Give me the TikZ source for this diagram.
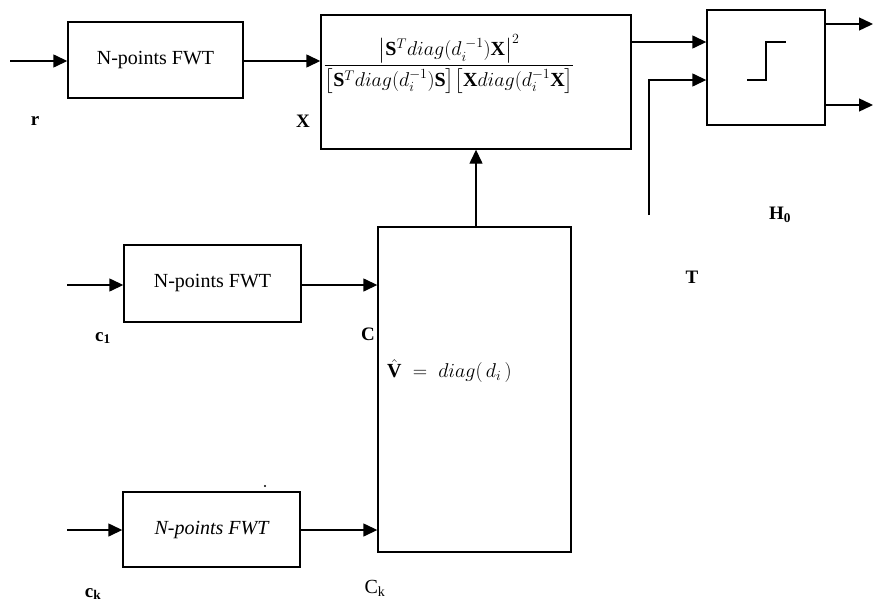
\RequirePackage{fix-cm}
\documentclass[tikz,border=0pt]{standalone}
\usepackage{amsmath}
\usepackage{fontspec}
\setmainfont{Liberation Serif}
\usetikzlibrary{arrows.meta,positioning,calc}
\tikzset{
  >={Triangle[length=14pt,width=13pt]},
  blk/.style={draw,line width=1.4pt,inner sep=2pt,font=\fontsize{20}{24}\selectfont},
  sig/.style={->,line width=1.4pt},
  lbl/.style={font=\fontsize{19}{22}\selectfont\bfseries,inner sep=0pt},
  formula/.style={inner sep=0pt,font=\fontsize{20}{24}\selectfont},
}

\begin{document}
\begin{tikzpicture}[x=1pt,y=-1pt]
  \useasboundingbox (0,0) rectangle (874,605);
  % blocks
  \node[blk,minimum width=175pt,minimum height=76pt] (fwtR) at (155.5,60) {N-points FWT};
  \node[blk,minimum width=310pt,minimum height=134pt] (metric) at (476,82) {};
  \node[formula] (ratio) at (449,64)
    {$\displaystyle\frac{\left|\mathbf{S}^T diag(d_i^{\;-1})\mathbf{X}\right|^2}
      {\left[\mathbf{S}^T diag(d_i^{-1})\mathbf{S}\right]\!\left[\mathbf{X}diag(d_i^{-1}\mathbf{X}\right]}$};
  \node[blk,minimum width=118pt,minimum height=115pt] (hzero) at (766,67.5) {};
  \node[blk,minimum width=177pt,minimum height=77pt] (fwtA) at (212.5,283.5) {N-points FWT};
  \node[blk,minimum width=177pt,minimum height=75pt,font=\fontsize{20}{24}\selectfont\itshape] (fwtK) at (211.5,529.5) {N-points FWT};
  \node[blk,minimum width=193pt,minimum height=325pt] (vhat) at (474.5,389.5) {};
  \node[formula,anchor=west] (vtext) at (387,371) {$\hat{\mathbf{V}}\;=\;diag(\,d_i\,)$};
  % threshold step
  \draw[line width=1.4pt] (747,80) -| (766,42) -- (786,42);
  % signal paths
  \coordinate (rin) at (10,61);
  \coordinate (cin1) at (67,285);
  \coordinate (cink) at (67,530);
  \coordinate (tfoot) at (649,215);
  \coordinate (rim) at (873,0);
  \path ([yshift=25.5pt]hzero.west) coordinate (hin1)
        ([yshift=-12.5pt]hzero.west) coordinate (hin2)
        ([yshift=43.5pt]hzero.east) coordinate (hout1)
        ([yshift=-37.5pt]hzero.east) coordinate (hout2);
  \draw[sig] (rin) -- (rin -| fwtR.west);
  \draw[sig] (fwtR.east |- rin) -- (rin -| metric.west);
  \draw[sig] (metric.east |- hin1) -- (hin1);
  \draw[sig] (tfoot) |- (hin2);
  \draw[sig] (hout1) -- (hout1 -| rim);
  \draw[sig] (hout2) -- (hout2 -| rim);
  \draw[sig] (cin1) -- (cin1 -| fwtA.west);
  \draw[sig] (fwtA.east |- cin1) -- (cin1 -| vhat.west);
  \draw[sig] (cink) -- (cink -| fwtK.west);
  \draw[sig] (fwtK.east |- cink) -- (cink -| vhat.west);
  \draw[sig] (vhat.north -| 476,0) -- (metric.south -| 476,0);
  % labels
  \node[lbl] (lr) at (35,121) {r};
  \node[lbl] (lx) at (303,121) {X};
  \node[lbl] (lc1) at (103,338) {c$_{\mathbf 1}$};
  \node[lbl] (lc) at (368,334) {C};
  \node[lbl] (lck) at (93,594) {c$_{\mathbf k}$};
  \node[inner sep=0pt,font=\fontsize{20}{24}\selectfont] (lCk) at (375,588) {C$_{\mathrm k}$};
  \node[lbl] (lt) at (692,277) {T};
  \node[lbl] (lh) at (780,215) {H$_{\mathbf 0}$};
  \fill (265,486) circle (1.2pt);
\end{tikzpicture}
\end{document}
